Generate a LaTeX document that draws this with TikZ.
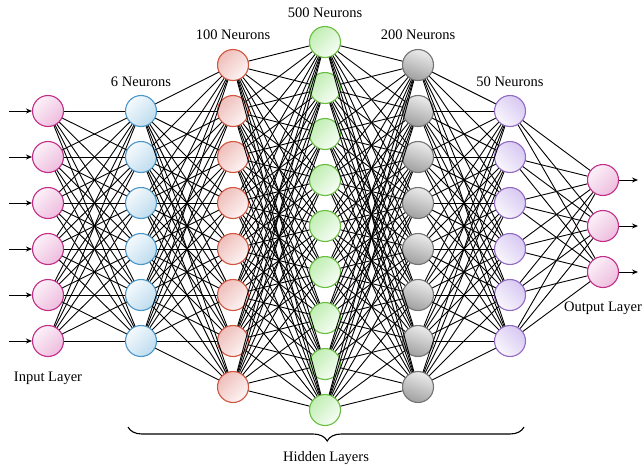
\documentclass[tikz,border=0pt]{standalone}
\usepackage{fontspec}
\setmainfont{Liberation Serif}
\usetikzlibrary{arrows.meta,decorations.pathreplacing}
\definecolor{pinkB}{RGB}{195,45,135}
\definecolor{pinkF}{RGB}{238,188,222}
\definecolor{blueB}{RGB}{75,150,200}
\definecolor{blueF}{RGB}{190,220,238}
\definecolor{redB}{RGB}{210,85,65}
\definecolor{redF}{RGB}{238,190,186}
\definecolor{greenB}{RGB}{105,190,65}
\definecolor{greenF}{RGB}{192,238,178}
\definecolor{greyB}{RGB}{115,115,115}
\definecolor{greyF}{RGB}{160,160,160}
\definecolor{purpB}{RGB}{145,105,195}
\definecolor{purpF}{RGB}{215,200,242}
\begin{document}
\begin{tikzpicture}[x=1pt,y=-1pt,
  neuron/.style={circle,minimum size=31pt,inner sep=0pt,line width=1.1pt},
  pinkn/.style={neuron,draw=pinkB,top color=pinkF,bottom color=pinkF!20,shading angle=-135},
  bluen/.style={neuron,draw=blueB,top color=blueF!15,bottom color=blueF,shading angle=45},
  redn/.style={neuron,draw=redB,top color=redF,bottom color=redF!15,shading angle=45},
  greenn/.style={neuron,draw=greenB,top color=greenF,bottom color=greenF!12,shading angle=45},
  greyn/.style={neuron,draw=greyB,top color=greyF!20,bottom color=greyF,shading angle=-20},
  purpn/.style={neuron,draw=purpB,top color=purpF,bottom color=purpF!15,shading angle=-45},
  conn/.style={line width=0.9pt,black},
  io/.style={line width=1pt,-{Stealth[length=6pt,width=5pt]}},
  lbl/.style={font=\fontsize{14.5}{17}\selectfont,inner sep=0pt}
]
\useasboundingbox (0,0) rectangle (642,466);
% nodes
\foreach \k in {1,...,6}{
  \node[pinkn] (i\k) at (48,{111+46*(\k-1)}) {};
  \node[bluen] (a\k) at (141,{111+46*(\k-1)}) {};
  \node[purpn] (e\k) at (510,{111+46*(\k-1)}) {};
  \coordinate (s\k) at (9,{111+46*(\k-1)});
}
\foreach \k in {1,...,8}{
  \node[redn] (b\k) at (233,{65+46*(\k-1)}) {};
  \node[greyn] (d\k) at (418,{65+46*(\k-1)}) {};
}
\foreach \k in {1,...,9}{
  \node[greenn] (c\k) at (325,{42+46*(\k-1)}) {};
}
\foreach \k in {1,...,3}{
  \node[pinkn] (o\k) at (603,{180+46*(\k-1)}) {};
  \coordinate (t\k) at (638,{180+46*(\k-1)});
}
% connections
\foreach \p in {1,...,6}{\foreach \q in {1,...,6}{\draw[conn] (i\p) -- (a\q);}}
\foreach \p in {1,...,6}{\foreach \q in {1,...,8}{\draw[conn] (a\p) -- (b\q);}}
\foreach \p in {1,...,8}{\foreach \q in {1,...,9}{\draw[conn] (b\p) -- (c\q);}}
\foreach \p in {1,...,9}{\foreach \q in {1,...,8}{\draw[conn] (c\p) -- (d\q);}}
\foreach \p in {1,...,8}{\foreach \q in {1,...,6}{\draw[conn] (d\p) -- (e\q);}}
\foreach \p in {1,...,6}{\foreach \q in {1,...,3}{\draw[conn] (e\p) -- (o\q);}}
\foreach \k in {1,...,6}{\draw[io] (s\k) -- (i\k);}
\foreach \k in {1,...,3}{\draw[io] (o\k) -- (t\k);}
% labels
\node[lbl] (l6) at (141,82) {6 Neurons};
\node[lbl] (l100) at (233,35) {100 Neurons};
\node[lbl] (l500) at (325,13) {500 Neurons};
\node[lbl] (l200) at (418,35) {200 Neurons};
\node[lbl] (l50) at (510,82) {50 Neurons};
\node[lbl] (lin) at (48,378) {Input Layer};
\node[lbl,anchor=west] (lout) at (564,308) {Output Layer};
\coordinate (bl) at (128,427);
\coordinate (br) at (524,427);
\draw[line width=1.1pt,decorate,decoration={brace,mirror,amplitude=14pt,aspect=0.503}] (bl) -- (br);
\node[lbl] (lhid) at (326,458) {Hidden Layers};
\end{tikzpicture}
\end{document}
